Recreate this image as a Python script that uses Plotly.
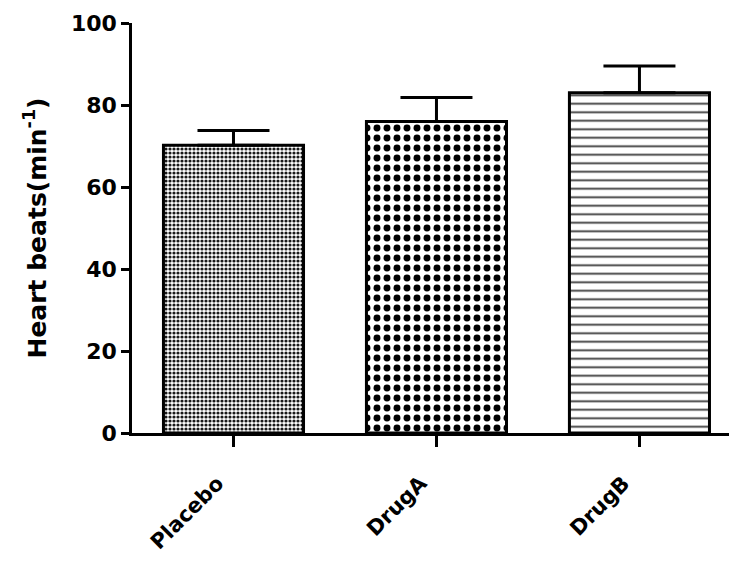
import plotly.graph_objects as go

categories = ["Placebo", "DrugA", "DrugB"]
means = [70.2, 76.0, 83.0]
sem_up = [3.6, 5.8, 6.5]
y_ticks = [0, 20, 40, 60, 80, 100]

pattern_shapes = [".", ".", "-"]
pattern_sizes = [4, 10, 8.5]
pattern_solidity = [0.5, 0.38, 0.22]
pattern_opacity = [0.9, 1.0, 0.75]

fig = go.Figure()
for i, cat in enumerate(categories):
    fig.add_trace(go.Bar(
        x=[cat], y=[means[i]],
        width=0.69,
        marker=dict(
            color="white",
            line=dict(color="black", width=3),
            pattern=dict(shape=pattern_shapes[i], size=pattern_sizes[i],
                         solidity=pattern_solidity[i], fgcolor="black",
                         bgcolor="white", fillmode="replace",
                         fgopacity=pattern_opacity[i]),
        ),
        error_y=dict(type="data", array=[sem_up[i]], arrayminus=[0], symmetric=False,
                     color="black", thickness=3, width=36),
        showlegend=False,
    ))

font_family = "DejaVu Sans, Liberation Sans, Arial, sans-serif"
fig.update_layout(
    width=737, height=555,
    margin=dict(l=124, r=0, t=15, b=130, autoexpand=False),
    paper_bgcolor="white", plot_bgcolor="white",
    font=dict(family=font_family, color="black"),
    xaxis=dict(
        range=[-0.5, 2.52], showline=True, linecolor="black", linewidth=2.5,
        ticks="outside", ticklen=11, tickwidth=2.5, tickcolor="black",
        tickangle=-45, tickfont=dict(size=21, family=font_family, weight="bold"),
        ticklabelstandoff=16, ticklabelshift=-16,
        showgrid=False, zeroline=False, automargin=False,
    ),
    yaxis=dict(
        range=[0, 100], tickvals=y_ticks, showline=True, linecolor="black", linewidth=2.5,
        ticks="outside", ticklen=8, tickwidth=2.5, tickcolor="black",
        tickfont=dict(size=22, family=font_family, weight="bold"),
        showgrid=False, zeroline=False, automargin=False,
        title=dict(text="Heart beats(min<sup>-1</sup>)",
                   font=dict(size=25, family=font_family, weight="bold"), standoff=18),
    ),
)

fig.write_html("out.html")
